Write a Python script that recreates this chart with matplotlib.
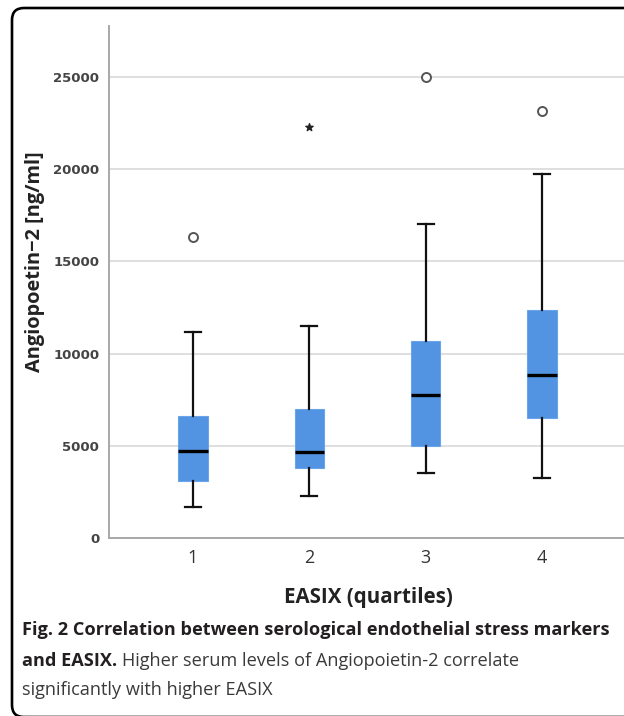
import matplotlib
matplotlib.use("Agg")
import matplotlib.pyplot as plt
from matplotlib.patches import FancyBboxPatch

plt.rcParams["font.family"] = ["Open Sans", "DejaVu Sans"]

# box statistics (ng/ml)
groups = ["1", "2", "3", "4"]
whisker_low = [1700, 2300, 3530, 3240]
q1 = [3080, 3780, 5000, 6530]
median = [4700, 4650, 7750, 8820]
q3 = [6600, 7010, 10700, 12380]
whisker_high = [11150, 11500, 17030, 19750]

# outliers (circle) and extreme values (star)
outlier_x = [1, 3, 4]
outlier_y = [16350, 25000, 23150]
extreme_x = [2]
extreme_y = [22300]

yticks = [0, 5000, 10000, 15000, 20000, 25000]

box_color = "#5294e2"

fig = plt.figure(figsize=(6.24, 7.16), dpi=100)
ax = fig.add_axes([109 / 624, 1 - 538 / 716, (624 - 109) / 624, 512 / 716])

stats = []
for i, g in enumerate(groups):
    stats.append({
        "label": g,
        "whislo": whisker_low[i], "q1": q1[i], "med": median[i],
        "q3": q3[i], "whishi": whisker_high[i], "fliers": [],
    })

ax.bxp(
    stats, positions=[1, 2, 3, 4], widths=0.25, patch_artist=True,
    showfliers=False,
    boxprops=dict(facecolor=box_color, edgecolor="#6aa5ea", linewidth=0.8),
    medianprops=dict(color="black", linewidth=2.4),
    whiskerprops=dict(color="#111111", linewidth=1.6),
    capprops=dict(color="#111111", linewidth=1.6),
    capwidths=0.135, zorder=3,
)

ax.scatter(outlier_x, outlier_y, s=42, facecolor="white", edgecolor="#555555",
           linewidth=1.4, zorder=4)
ax.scatter(extreme_x, extreme_y, s=30, marker="*", color="#222222", zorder=4)

ax.set_xlim(0.278, 4.705)
ax.set_ylim(0, 27766)
ax.set_yticks(yticks)
ax.set_yticklabels([str(v) for v in yticks], fontweight="bold", fontsize=9.5,
                   color="#444444", family="DejaVu Sans")
ax.set_xticks([1, 2, 3, 4])
ax.set_xticklabels(groups, fontsize=13, color="#333333")
ax.tick_params(axis="both", length=0)
ax.tick_params(axis="y", pad=7)
ax.tick_params(axis="x", pad=8)
ax.grid(axis="y", color="#d6d6d6", linewidth=1.1, zorder=0)
ax.set_axisbelow(True)
for side in ["top", "right"]:
    ax.spines[side].set_visible(False)
for side in ["left", "bottom"]:
    ax.spines[side].set_color("#a8a8a8")
    ax.spines[side].set_linewidth(1.4)

fig.text(368 / 624, 1 - 598 / 716, "EASIX (quartiles)", ha="center",
         va="center", fontsize=14.8, fontweight="bold", color="#222222")
fig.text(35 / 624, 1 - 262 / 716, "Angiopoetin\u22122 [ng/ml]", ha="center",
         va="center", rotation=90, fontsize=14.4, fontweight="bold",
         color="#222222")

# caption
fs = 13.1
fig.text(22 / 624, 1 - 630 / 716,
         "Fig. 2 Correlation between serological endothelial stress markers",
         ha="left", va="center", fontsize=fs, fontweight="bold",
         color="#231f20")
t1 = fig.text(22 / 624, 1 - 661 / 716, "and EASIX.", ha="left", va="center",
              fontsize=fs, fontweight="bold", color="#231f20")
fig.canvas.draw()
bb = t1.get_window_extent()
fig.text(bb.x1 / 624 + 5 / 624, 1 - 661 / 716,
         "Higher serum levels of Angiopoietin-2 correlate", ha="left",
         va="center", fontsize=fs, color="#3a3a3a")
fig.text(22 / 624, 1 - 690 / 716, "significantly with higher EASIX",
         ha="left", va="center", fontsize=fs, color="#3a3a3a")

# rounded frame, open to the right and (nearly) the bottom
frame = FancyBboxPatch((0.12, -0.01), 7.0, 7.09,
                       boxstyle="round,pad=0,rounding_size=0.12",
                       transform=fig.dpi_scale_trans, facecolor="none",
                       edgecolor="black", linewidth=1.9, clip_on=False)
fig.patches.append(frame)

fig.savefig("out.png", dpi=100)
